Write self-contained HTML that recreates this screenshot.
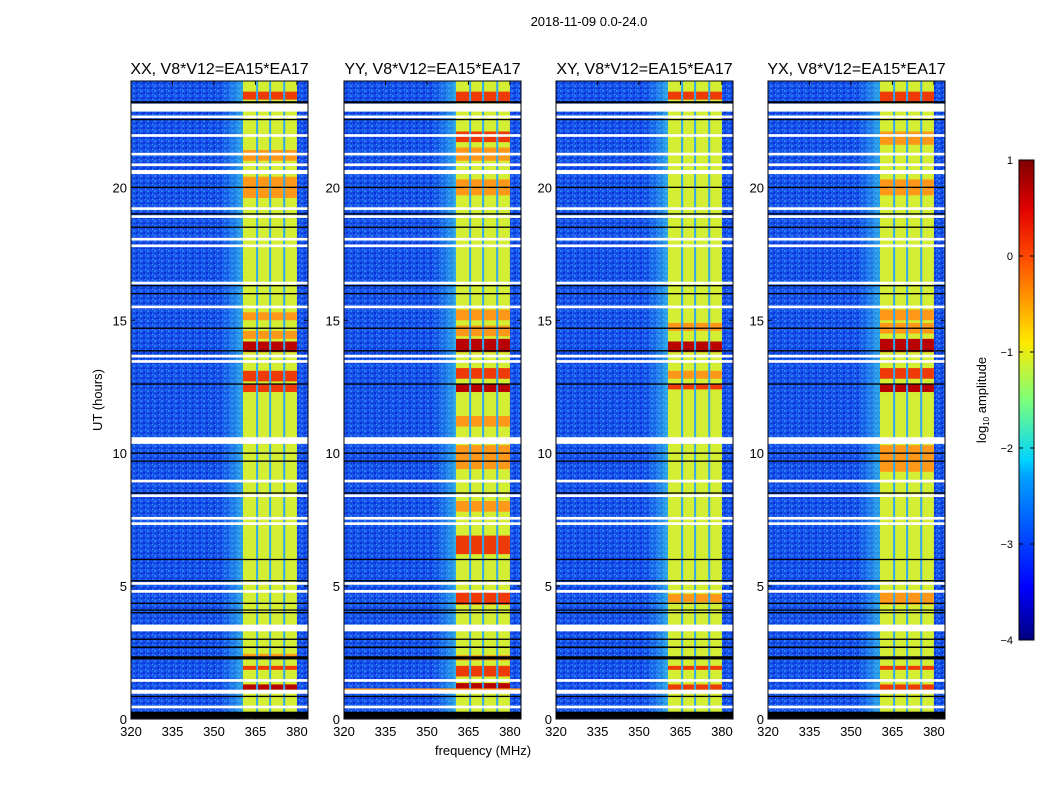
<!DOCTYPE html>
<html><head><meta charset="utf-8"><style>
body{margin:0;background:#fff;font-family:"Liberation Sans",sans-serif}
svg text{font-family:"Liberation Sans",sans-serif}
</style></head><body>
<svg id="fig" width="1050" height="800" xmlns="http://www.w3.org/2000/svg">
<defs>
<linearGradient id="jet" x1="0" y1="1" x2="0" y2="0">
<stop offset="0" stop-color="#00007f"/><stop offset="0.11" stop-color="#0000ff"/><stop offset="0.34" stop-color="#00a0ff"/><stop offset="0.375" stop-color="#00d4ff"/><stop offset="0.5" stop-color="#7dff7a"/><stop offset="0.62" stop-color="#ffea00"/><stop offset="0.8" stop-color="#ff4800"/><stop offset="0.9" stop-color="#e00000"/><stop offset="1" stop-color="#7f0000"/>
</linearGradient>
<linearGradient id="edge" x1="0" y1="0" x2="1" y2="0"><stop offset="0" stop-color="#30c0ff" stop-opacity="0"/><stop offset="1" stop-color="#40e0e0" stop-opacity="0.6"/></linearGradient>
<pattern id="noise" width="7" height="5" patternUnits="userSpaceOnUse"><rect width="7" height="5" fill="#1652ea"/><rect x="0" y="0" width="2" height="2" fill="#2a7ef6"/><rect x="3" y="2" width="2" height="2" fill="#0a30d8"/><rect x="5" y="4" width="1" height="1" fill="#3aa0ff"/><rect x="1" y="3" width="1" height="1" fill="#0c2cc8"/></pattern>
</defs>
<text x="589" y="26" font-size="13" text-anchor="middle">2018-11-09 0.0-24.0</text>
<g id="panels"></g>
<text x="483" y="755" font-size="13" text-anchor="middle">frequency (MHz)</text>
<text transform="translate(102,400) rotate(-90)" font-size="13" text-anchor="middle">UT (hours)</text>
<g>
<rect x="1019" y="160" width="15" height="480" fill="url(#jet)" stroke="#000" stroke-width="1"/>
<g id="cbticks"></g>
<text transform="translate(986,400) rotate(-90)" font-size="13" text-anchor="middle">log<tspan font-size="8" dy="3">10</tspan><tspan dy="-3"> amplitude</tspan></text>
</g>
</svg>
<script>
const NS="http://www.w3.org/2000/svg";
const panelTitles=["XX, V8*V12=EA15*EA17","YY, V8*V12=EA15*EA17","XY, V8*V12=EA15*EA17","YX, V8*V12=EA15*EA17"];
const xTicks=[320,335,350,365,380];
const yTicks=[0,5,10,15,20];
const freqRange=[320,384];
const bandMHz=[360.5,380];
const stripeMHz=[365.6,370.3,375.4];
// white (flagged) gaps [startHour,endHour]
const whiteGaps=[[0.4,0.5],[0.95,1.1],[1.4,1.5],[3.3,3.55],[4.75,4.85],[5.05,5.15],[7.3,7.4],[7.5,7.6],[8.35,8.45],[8.9,9.0],[10.35,10.6],[13.4,13.5],[13.6,13.7],[15.45,15.55],[16.35,16.45],[17.75,17.85],[18.0,18.1],[18.85,18.95],[19.15,19.25],[20.5,20.65],[20.8,20.9],[21.2,21.3],[21.9,22.0],[22.6,22.7],[22.85,23.15]];
// black lines [hour,thicknessHours]
const blackLines=[[0.15,0.25],[0.85,0.05],[2.3,0.12],[2.7,0.06],[3.0,0.05],[4.0,0.05],[4.1,0.04],[4.35,0.05],[5.2,0.05],[6.0,0.05],[8.5,0.05],[9.7,0.05],[10.0,0.05],[12.6,0.05],[13.85,0.05],[14.7,0.05],[16.0,0.05],[16.3,0.05],[18.5,0.05],[19.0,0.05],[20.0,0.05],[22.55,0.05],[23.2,0.08]];
// band intensity segments per panel [h0,h1,level] level: 1 orange,2 red,3 dark red
const bandXX=[[1.1,1.3,3],[1.85,2.0,2],[2.25,2.45,1],[12.3,12.6,2],[12.7,13.1,2],[13.8,14.2,3],[14.3,14.6,1],[15.0,15.3,1],[19.6,20.4,1],[21.0,21.4,1],[23.3,23.6,2]];
const bandYY=[[1.1,1.35,3],[1.6,2.0,2],[2.2,2.4,1],[4.3,4.8,2],[6.2,6.9,2],[7.8,8.2,1],[9.4,10.3,1],[11.0,11.4,1],[12.3,12.6,3],[12.8,13.2,2],[13.8,14.3,3],[14.4,14.8,1],[15.0,15.4,1],[19.7,20.3,1],[21.0,21.5,1],[21.7,22.1,2],[23.2,23.6,2]];
const bandXY=[[1.1,1.3,2],[1.85,2.0,2],[4.4,4.7,1],[12.4,12.6,2],[12.8,13.1,1],[13.8,14.2,3],[14.6,14.9,1],[23.3,23.6,2]];
const bandYX=[[1.1,1.3,2],[1.85,2.0,2],[4.3,4.8,1],[9.3,10.3,1],[12.3,12.6,3],[12.8,13.2,2],[13.8,14.3,3],[14.5,14.9,1],[15.0,15.4,1],[19.7,20.3,1],[21.6,22.1,1],[23.2,23.6,2]];
const bands=[bandXX,bandYY,bandXY,bandYX];
const cbTicks=[-4,-3,-2,-1,0,1];

const panelLeft=[131,344,556,768],PW=177,PT=81,PH=638;
const levelColor=["#d4ee34","#ff9818","#ee3a06","#b80000"];
function el(t,a,p){const e=document.createElementNS(NS,t);for(const k in a)e.setAttribute(k,a[k]);p.appendChild(e);return e;}
const root=document.getElementById('panels');
panelTitles.forEach((title,i)=>{
  const L=panelLeft[i];
  const X=f=>L+(f-freqRange[0])/(freqRange[1]-freqRange[0])*PW;
  const Y=h=>PT+PH-h/24*PH;
  const g=el('g',{},root);
  
  
  el('rect',{x:L,y:PT,width:PW,height:PH,fill:'url(#noise)'},g);
  el('rect',{x:X(352),y:PT,width:X(bandMHz[0])-X(352),height:PH,fill:'url(#edge)'},g);
  const bx=X(bandMHz[0]),bw=X(bandMHz[1])-bx;
  const band=el('rect',{x:bx,y:PT,width:bw,height:PH,fill:levelColor[0]},g);
  
  
  bands[i].forEach(s=>{
    const r=el('rect',{x:bx,y:Y(s[1]),width:bw,height:Y(s[0])-Y(s[1]),fill:levelColor[s[2]]},g);
    
    
  });
  stripeMHz.forEach(f=>{el('rect',{x:X(f)-1,y:PT,width:2,height:PH,fill:'#30a8f0'},g);});
  if(i===1) el('rect',{x:L,y:Y(1.15),width:PW,height:2,fill:'#ff9a18'},g);
  whiteGaps.forEach(w=>{
    const r=el('rect',{x:L,y:Y(w[1]),width:PW,height:Math.max(1.5,Y(w[0])-Y(w[1])),fill:'#fff'},g);
    
    
  });
  blackLines.forEach(b=>{
    const r=el('rect',{x:L,y:Y(b[0]+b[1]/2),width:PW,height:Math.max(1.2,Y(0)-Y(b[1])),fill:'#000'},g);
    
    
  });
  el('rect',{x:L,y:PT,width:PW,height:PH,fill:'none',stroke:'#000','stroke-width':1},g);
  const t=el('text',{x:L+PW/2,y:PT-7,'font-size':16,'text-anchor':'middle'},g);
  t.textContent=title;
  
  
  xTicks.forEach(v=>{
    el('line',{x1:X(v),x2:X(v),y1:PT+PH,y2:PT+PH-4,stroke:'#000'},g);
    el('line',{x1:X(v),x2:X(v),y1:PT,y2:PT+4,stroke:'#000'},g);
    const tx=el('text',{x:X(v),y:PT+PH+17,'font-size':13,'text-anchor':'middle'},g);
    tx.textContent=v;
    
    
  });
  yTicks.forEach(v=>{
    el('line',{x1:L,x2:L+4,y1:Y(v),y2:Y(v),stroke:'#000'},g);
    el('line',{x1:L+PW,x2:L+PW-4,y1:Y(v),y2:Y(v),stroke:'#000'},g);
    const ty=el('text',{x:L-4,y:Y(v)+5,'font-size':13,'text-anchor':'end'},g);
    ty.textContent=v;
    
    
  });
});
const cb=document.getElementById('cbticks');
cbTicks.forEach(v=>{
  const y=640-(v+4)/5*480;
  el('line',{x1:1019,x2:1023,y1:y,y2:y,stroke:'#000'},cb);
  el('line',{x1:1034,x2:1030,y1:y,y2:y,stroke:'#000'},cb);
  const t=el('text',{x:1013,y:y+4,'font-size':11,'text-anchor':'end'},cb);
  t.textContent=v<0?'\u2212'+(-v):v;
  
  
});
</script>
</body></html>
